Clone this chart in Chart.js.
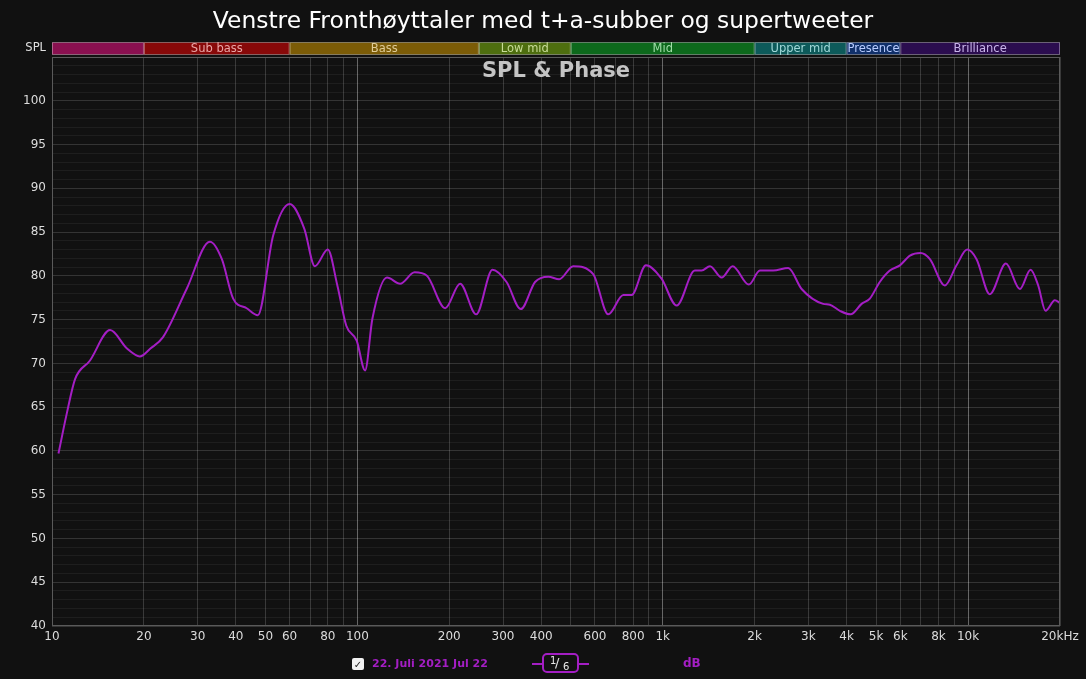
<!DOCTYPE html>
<html>
<head>
<meta charset="utf-8">
<title>SPL & Phase</title>
<script src="https://cdn.jsdelivr.net/npm/chart.js@4.4.0/dist/chart.umd.min.js"></script>
<style>
  html, body { margin: 0; background: #111111; }
  canvas { display: block; }
</style>
</head>
<body>
<canvas id="spl" width="1086" height="679"></canvas>
<script>
const freqs = [10.5, 11.2, 11.9, 13.3, 15.5, 17.6, 19.4, 21, 23.1, 27.6, 32.9, 36, 39.2, 43.4, 47.2,
  53, 60, 67, 72.6, 80, 86, 92, 99.5, 106, 112, 125, 138, 154, 169, 194, 217, 245, 277, 308, 343,
  382, 422, 458, 509, 592, 663, 743, 791, 881, 990, 1111, 1274, 1341, 1428, 1560, 1694, 1915, 2081,
  2300, 2576, 2850, 3354, 3528, 3804, 4123, 4480, 4767, 5139, 5543, 5981, 6450, 6988, 7500, 8394,
  9165, 9930, 10660, 11780, 13300, 14780, 16020, 16970, 17940, 19240, 20000];
const splDb = [59.7, 64.4, 68.2, 70.3, 73.8, 71.7, 70.8, 71.7, 73.0, 78.5, 83.9, 81.9, 77.4, 76.3, 75.5,
  84.6, 88.2, 85.4, 81.1, 83.0, 78.9, 74.3, 72.6, 69.2, 75.1, 79.8, 79.1, 80.4, 80.0, 76.3, 79.1, 75.6, 80.7, 79.3, 76.2,
  79.3, 79.9, 79.6, 81.1, 80.2, 75.6, 77.8, 77.8, 81.2, 79.7, 76.6, 80.6, 80.6, 81.1, 79.8, 81.1, 79.0, 80.6,
  80.6, 80.9, 78.5, 76.8, 76.7, 76.0, 75.6, 76.8, 77.4, 79.3, 80.6, 81.2, 82.3, 82.6, 81.9, 78.9,
  81.2, 83.0, 81.9, 77.9, 81.4, 78.5, 80.7, 78.9, 76.0, 77.2, 76.9];

// vertical grid lines and which of them carry a label
const gridFreqs = [10, 20, 30, 40, 50, 60, 70, 80, 90, 100, 200, 300, 400, 500, 600, 700, 800, 900,
  1000, 2000, 3000, 4000, 5000, 6000, 7000, 8000, 9000, 10000, 20000];
const labelFreqs = [10, 20, 30, 40, 50, 60, 80, 100, 200, 300, 400, 600, 800, 1000, 2000, 3000, 4000, 5000, 6000, 8000, 10000, 20000];
const labelTexts = ['10', '20', '30', '40', '50', '60', '80', '100', '200', '300', '400', '600', '800',
  '1k', '2k', '3k', '4k', '5k', '6k', '8k', '10k', '20kHz'];
const decadeFreqs = [100, 1000, 10000];

// frequency band strip above the plot
const bandEdges = [10, 20, 60, 250, 500, 2000, 4000, 6000, 20000];
const bandNames = ['', 'Sub bass', 'Bass', 'Low mid', 'Mid', 'Upper mid', 'Presence', 'Brilliance'];
const bandFills = ['#8a1050', '#880909', '#7c5c07', '#4e6e0f', '#0d691c', '#0d5a5a', '#10306a', '#2b0d4f'];
const bandTexts = ['#f0a0c8', '#eaa6a6', '#e0cc98', '#c8dc98', '#a0dca8', '#a0d8d8', '#b8ccff', '#c8b4ea'];

const chartTitle = 'Venstre Fronthøyttaler med t+a-subber og supertweeter';
const yMin = 40, yMax = 105;
const FONT = '"DejaVu Sans", sans-serif';
const PURPLE = '#a41ec4';

const overlay = {
  id: 'overlay',
  afterDraw(chart) {
    const { ctx, chartArea: a, scales: { x } } = chart;
    ctx.save();

    // window title, centred on the whole canvas
    ctx.font = '23.4px ' + FONT;
    ctx.textAlign = 'center';
    ctx.textBaseline = 'alphabetic';
    ctx.fillStyle = '#ffffff';
    ctx.fillText(chartTitle, chart.width / 2, 28);

    // plot frame
    ctx.strokeStyle = '#5a5a5a';
    ctx.lineWidth = 1;
    ctx.strokeRect(a.left + 0.5, a.top + 0.5, a.right - a.left - 1, a.bottom - a.top - 1);

    // band strip
    const top = 42.5, h = 12;
    ctx.font = '11.5px ' + FONT;
    ctx.textBaseline = 'middle';
    for (let i = 0; i < bandNames.length; i++) {
      const x0 = x.getPixelForValue(bandEdges[i]);
      const x1 = x.getPixelForValue(bandEdges[i + 1]);
      ctx.fillStyle = bandFills[i];
      ctx.fillRect(x0, top, x1 - x0, h);
      ctx.strokeStyle = 'rgba(255,255,255,0.35)';
      ctx.strokeRect(x0 + 0.5, top, x1 - x0 - 1, h);
      if (bandNames[i]) {
        ctx.fillStyle = bandTexts[i];
        ctx.fillText(bandNames[i], (x0 + x1) / 2, top + h / 2 + 0.5);
      }
    }
    ctx.fillStyle = '#e0e0e0';
    ctx.textAlign = 'right';
    ctx.fillText('SPL', 46, top + h / 2);

    // graph heading inside the plot
    ctx.font = 'bold 21px ' + FONT;
    ctx.textAlign = 'center';
    ctx.fillStyle = '#c4c4c4';
    ctx.fillText('SPL & Phase', (a.left + a.right) / 2, 72);

    // legend row
    const ly = 664;
    ctx.fillStyle = '#f2f2f2';
    ctx.beginPath();
    ctx.roundRect(352, ly - 6, 12, 12, 2);
    ctx.fill();
    ctx.fillStyle = '#222';
    ctx.font = 'bold 10px ' + FONT;
    ctx.fillText('✓', 358, ly + 1);

    ctx.font = 'bold 11px ' + FONT;
    ctx.textAlign = 'left';
    ctx.fillStyle = PURPLE;
    ctx.fillText('22. Juli 2021 Jul 22', 372, ly);

    ctx.strokeStyle = PURPLE;
    ctx.lineWidth = 2;
    ctx.beginPath();
    ctx.moveTo(532, ly); ctx.lineTo(543, ly);
    ctx.moveTo(578, ly); ctx.lineTo(589, ly);
    ctx.stroke();
    ctx.beginPath();
    ctx.roundRect(543, 654, 35, 18, 4);
    ctx.stroke();
    ctx.fillStyle = '#e8e8e8';
    ctx.font = '10px ' + FONT;
    ctx.fillText('1', 550, ly - 3);
    ctx.font = '13px ' + FONT;
    ctx.fillText('/', 555, ly);
    ctx.font = '10px ' + FONT;
    ctx.fillText('6', 563, ly + 3);

    ctx.font = 'bold 12px ' + FONT;
    ctx.fillStyle = PURPLE;
    ctx.fillText('dB', 683, ly);

    ctx.restore();
  }
};

new Chart(document.getElementById('spl'), {
  type: 'line',
  data: {
    datasets: [{
      data: freqs.map((f, i) => ({ x: f, y: splDb[i] })),
      borderColor: PURPLE,
      borderWidth: 2,
      pointRadius: 0,
      cubicInterpolationMode: 'monotone',
      fill: false
    }]
  },
  options: {
    responsive: false,
    animation: false,
    layout: { padding: { left: 0, right: 26, top: 57, bottom: 0 } },
    plugins: {
      legend: { display: false },
      tooltip: { enabled: false },
      title: { display: false }
    },
    scales: {
      x: {
        type: 'logarithmic',
        min: 10,
        max: 20000,
        afterBuildTicks: s => { s.ticks = gridFreqs.map(v => ({ value: v })); },
        afterFit: s => { s.height = 53; },
        border: { display: false },
        grid: {
          drawTicks: false,
          color: c => (c.tick && decadeFreqs.includes(c.tick.value)) ? 'rgba(255,255,255,0.36)' : 'rgba(255,255,255,0.17)'
        },
        ticks: {
          autoSkip: false,
          maxRotation: 0,
          padding: 4,
          color: '#dcdcdc',
          font: { family: FONT, size: 12 },
          callback: v => {
            const k = labelFreqs.indexOf(v);
            return k >= 0 ? labelTexts[k] : '';
          }
        }
      },
      y: {
        min: yMin,
        max: yMax,
        afterBuildTicks: s => {
          const t = [];
          for (let v = yMin; v <= yMax; v++) t.push({ value: v });
          s.ticks = t;
        },
        afterFit: s => { s.width = 52; },
        border: { display: false },
        grid: {
          drawTicks: false,
          color: c => (c.tick && c.tick.value % 5 === 0) ? 'rgba(255,255,255,0.15)' : 'rgba(255,255,255,0.055)'
        },
        ticks: {
          autoSkip: false,
          padding: 6,
          color: '#dcdcdc',
          font: { family: FONT, size: 12 },
          callback: v => (v % 5 === 0 && v <= 100) ? String(v) : ''
        }
      }
    }
  },
  plugins: [overlay]
});
</script>
</body>
</html>
